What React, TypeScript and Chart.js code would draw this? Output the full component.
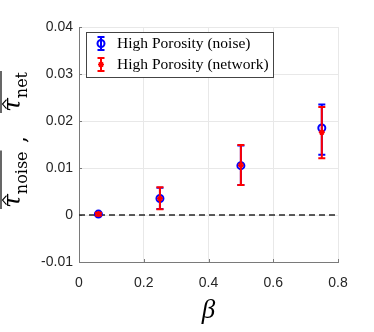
import { useEffect, useRef } from 'react';
import { Chart, registerables } from 'chart.js';

Chart.register(...registerables);

// ---- data ----
const betaValues = [0.06, 0.25, 0.5, 0.75];

const noiseMean = [0.0002, 0.0035, 0.0105, 0.0185];
const noiseLow = [-0.0001, 0.0013, 0.0064, 0.0128];
const noiseHigh = [0.0005, 0.0058, 0.0148, 0.0235];

const netMean = [0.0002, 0.0035, 0.0106, 0.0176];
const netLow = [-0.0001, 0.0012, 0.0064, 0.0121];
const netHigh = [0.0005, 0.0059, 0.0149, 0.023];

const seriesLabels = ['High Porosity (noise)', 'High Porosity (network)'];
const seriesColors = ['#0000ff', '#ff0000'];
const xTitle = 'β';
const yTitleParts = [
  { sym: 'τ', sub: 'noise' },
  { sym: 'τ', sub: 'net' },
];

const errLows = [noiseLow, netLow];
const errHighs = [noiseHigh, netHigh];

const SERIF = '"Liberation Serif", "DejaVu Serif", serif';
const TITLE_SERIF = '"DejaVu Serif", serif';
const SANS = '"Liberation Sans", Arial, sans-serif';

function drawErrorBar(ctx: CanvasRenderingContext2D, x: number, yl: number, yh: number, color: string) {
  ctx.save();
  ctx.strokeStyle = color;
  ctx.lineWidth = 2;
  ctx.beginPath();
  ctx.moveTo(x, yl);
  ctx.lineTo(x, yh);
  ctx.moveTo(x - 3.5, yl);
  ctx.lineTo(x + 3.5, yl);
  ctx.moveTo(x - 3.5, yh);
  ctx.lineTo(x + 3.5, yh);
  ctx.stroke();
  ctx.restore();
}

function drawMarker(ctx: CanvasRenderingContext2D, idx: number, x: number, y: number) {
  ctx.save();
  ctx.strokeStyle = seriesColors[idx];
  if (idx === 0) {
    ctx.lineWidth = 2;
    ctx.beginPath();
    ctx.arc(x, y, 3.5, 0, Math.PI * 2);
    ctx.stroke();
  } else {
    ctx.lineWidth = 1.5;
    ctx.beginPath();
    for (let k = 0; k < 4; k++) {
      const a = (k * Math.PI) / 4;
      ctx.moveTo(x - 3 * Math.cos(a), y - 3 * Math.sin(a));
      ctx.lineTo(x + 3 * Math.cos(a), y + 3 * Math.sin(a));
    }
    ctx.stroke();
  }
  ctx.restore();
}

const customPlugin = {
  id: 'customDecor',
  beforeDatasetsDraw(chart: any) {
    const { ctx, chartArea, scales } = chart;
    const y0 = scales.y.getPixelForValue(0);
    ctx.save();
    // inward tick marks
    ctx.strokeStyle = '#7a7a7a';
    ctx.lineWidth = 1;
    ctx.beginPath();
    scales.y.ticks.forEach((t: any) => {
      const yy = Math.round(scales.y.getPixelForValue(t.value)) + 0.5;
      ctx.moveTo(chartArea.left, yy);
      ctx.lineTo(chartArea.left + 3, yy);
    });
    scales.x.ticks.forEach((t: any) => {
      const xx = Math.round(scales.x.getPixelForValue(t.value)) + 0.5;
      ctx.moveTo(xx, chartArea.bottom);
      ctx.lineTo(xx, chartArea.bottom - 3);
    });
    ctx.stroke();
    // zero dashed line
    ctx.strokeStyle = '#262626';
    ctx.lineWidth = 1.5;
    ctx.setLineDash([6, 4]);
    ctx.beginPath();
    ctx.moveTo(chartArea.left, y0);
    ctx.lineTo(chartArea.right, y0);
    ctx.stroke();
    ctx.restore();
  },
  beforeDatasetDraw(chart: any, args: any) {
    const { ctx, scales } = chart;
    const i = args.index;
    betaValues.forEach((b, k) => {
      const x = scales.x.getPixelForValue(b);
      const yl = scales.y.getPixelForValue(errLows[i][k]);
      const yh = scales.y.getPixelForValue(errHighs[i][k]);
      drawErrorBar(ctx, x, yl, yh, seriesColors[i]);
    });
  },
  afterDraw(chart: any) {
    const { ctx, chartArea } = chart;
    ctx.save();
    // legend
    const lx = 86, ly = 32, lw = 187, lh = 45;
    ctx.fillStyle = '#ffffff';
    ctx.fillRect(lx, ly, lw, lh);
    ctx.strokeStyle = '#444444';
    ctx.lineWidth = 1;
    ctx.strokeRect(lx + 0.5, ly + 0.5, lw, lh);
    seriesLabels.forEach((lab, i) => {
      const cy = 43.5 + i * 21;
      drawErrorBar(ctx, 101, cy - 6.5, cy + 6.5, seriesColors[i]);
      drawMarker(ctx, i, 101, cy);
      ctx.fillStyle = '#000000';
      ctx.font = `15.5px ${SERIF}`;
      ctx.textBaseline = 'middle';
      ctx.textAlign = 'left';
      ctx.fillText(lab, 117, cy + 0.5);
    });
    // x title
    ctx.fillStyle = '#000000';
    ctx.font = `italic 27px ${SERIF}`;
    ctx.textAlign = 'center';
    ctx.textBaseline = 'alphabetic';
    ctx.fillText(xTitle, (chartArea.left + chartArea.right) / 2, 318);
    // y title (rotated)
    ctx.translate(20, 208);
    ctx.rotate(-Math.PI / 2);
    ctx.textAlign = 'left';
    ctx.strokeStyle = '#000000';
    const groupStarts = [0, 96];
    yTitleParts.forEach((p, i) => {
      let x = groupStarts[i];
      const start = x;
      ctx.font = `italic 25px ${TITLE_SERIF}`;
      const tw = ctx.measureText(p.sym).width;
      ctx.fillText(p.sym, x, 0);
      // hat
      const hc = x + tw / 2 + 1;
      ctx.lineWidth = 1.1;
      ctx.beginPath();
      ctx.moveTo(hc - 4.5, -13.5);
      ctx.lineTo(hc, -17.5);
      ctx.lineTo(hc + 4.5, -13.5);
      ctx.stroke();
      x += tw;
      ctx.font = `16px ${TITLE_SERIF}`;
      const sw = ctx.measureText(p.sub).width;
      ctx.fillText(p.sub, x, 6.5);
      x += sw;
      // overline
      ctx.lineWidth = 1.2;
      ctx.beginPath();
      ctx.moveTo(start - 1, -19);
      ctx.lineTo(x + 1, -19);
      ctx.stroke();
      if (i < yTitleParts.length - 1) {
        ctx.font = `22px ${TITLE_SERIF}`;
        ctx.fillText(',', 65, 6);
      }
    });
    ctx.restore();
  },
};

export default function App() {
  const ref = useRef<HTMLCanvasElement>(null);
  useEffect(() => {
    const canvas = ref.current!;
    const tickFont = { family: SANS, size: 14 };
    const chart = new Chart(canvas, {
      type: 'scatter',
      data: {
        datasets: [
          {
            label: seriesLabels[0],
            data: betaValues.map((b, i) => ({ x: b, y: noiseMean[i] })),
            borderColor: seriesColors[0],
            backgroundColor: 'rgba(0,0,0,0)',
            pointStyle: 'circle',
            pointRadius: 3.5,
            pointBorderWidth: 2,
            order: 1,
          },
          {
            label: seriesLabels[1],
            data: betaValues.map((b, i) => ({ x: b, y: netMean[i] })),
            borderColor: seriesColors[1],
            backgroundColor: seriesColors[1],
            pointStyle: 'star',
            pointRadius: 3,
            pointBorderWidth: 1.5,
            order: 0,
          },
        ],
      },
      options: {
        responsive: false,
        animation: false,
        devicePixelRatio: 1,
        layout: { padding: { left: 0, top: 27, right: 36, bottom: 0 } },
        plugins: { legend: { display: false }, tooltip: { enabled: false } },
        scales: {
          x: {
            type: 'linear',
            min: 0,
            max: 0.8,
            afterFit: (s: any) => {
              s.height = 70;
            },
            grid: { color: '#e8e8e8', drawTicks: false },
            border: { color: '#7a7a7a', width: 1 },
            ticks: {
              stepSize: 0.2,
              padding: 13,
              color: '#262626',
              font: tickFont,
              callback: (v: any) => Number(Number(v).toFixed(1)).toString(),
            },
          },
          y: {
            type: 'linear',
            min: -0.01,
            max: 0.04,
            afterFit: (s: any) => {
              s.width = 79;
            },
            grid: { color: '#e8e8e8', drawTicks: false },
            border: { color: '#7a7a7a', width: 1 },
            ticks: {
              stepSize: 0.01,
              padding: 6,
              color: '#262626',
              font: tickFont,
              callback: (v: any) => Number(Number(v).toFixed(2)).toString(),
            },
          },
        },
      },
      plugins: [customPlugin],
    } as any);
    return () => chart.destroy();
  }, []);
  return (
    <div style={{ position: 'fixed', left: 0, top: 0, width: 374, height: 332, background: '#ffffff' }}>
      <canvas ref={ref} width={374} height={332} style={{ display: 'block', width: 374, height: 332 }} />
    </div>
  );
}
